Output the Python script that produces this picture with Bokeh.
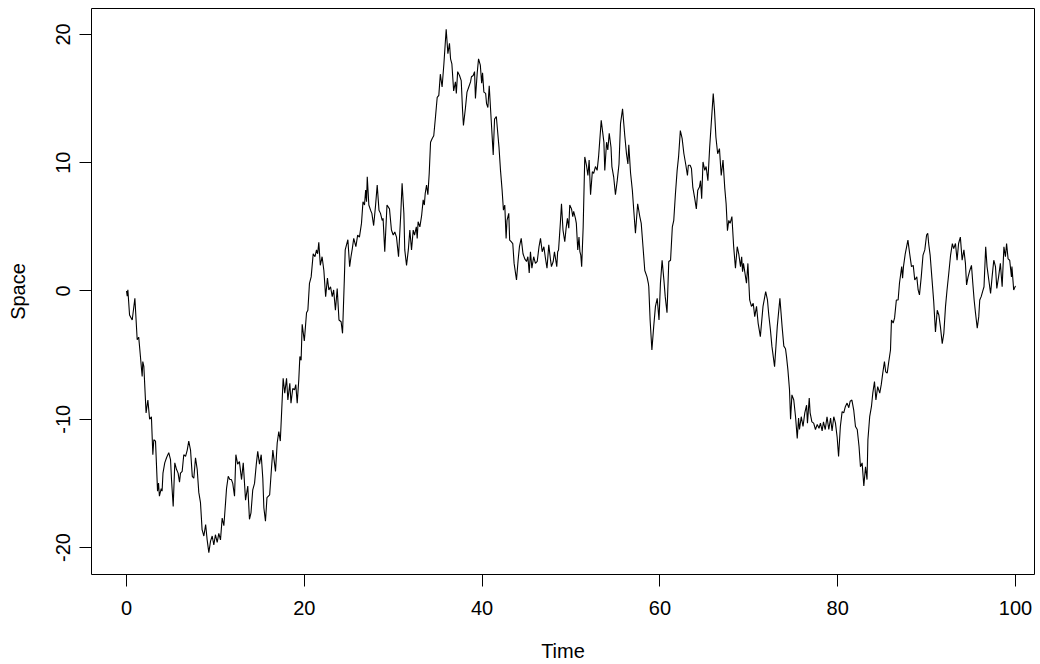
from bokeh.plotting import figure
from bokeh.models import Range1d, FixedTicker
from bokeh.embed import file_html
from bokeh.resources import INLINE

time = [0.0, 0.08, 0.15, 0.34, 0.64, 0.94, 1.2, 1.37, 1.5, 1.76, 1.83, 1.95, 2.2, 2.4, 2.6, 2.8, 2.96, 3.07, 3.26, 3.49,
        3.6, 3.7, 3.9, 4.0, 4.1, 4.3, 4.5, 4.75, 4.95, 5.06, 5.25, 5.43, 5.62, 5.8, 5.96, 6.07, 6.26, 6.44, 6.64, 6.83,
        7.0, 7.2, 7.4, 7.57, 7.76, 7.95, 8.13, 8.32, 8.5, 8.7, 8.9, 9.07, 9.26, 9.45, 9.64, 9.82, 10.0, 10.2, 10.38, 10.57,
        10.76, 10.95, 11.14, 11.25, 11.44, 11.62, 11.8, 11.95, 12.15, 12.3, 12.5, 12.7, 12.94, 13.13, 13.39, 13.64, 13.83, 14.0, 14.2, 14.4,
        14.6, 14.76, 14.96, 15.15, 15.33, 15.45, 15.63, 15.8, 16.1, 16.3, 16.46, 16.76, 16.95, 17.13, 17.3, 17.62, 17.8, 18.0, 18.15, 18.37,
        18.5, 18.7, 18.9, 19.04, 19.2, 19.38, 19.5, 19.64, 19.76, 20.0, 20.25, 20.4, 20.58, 20.77, 21.0, 21.2, 21.37, 21.5, 21.63, 21.8,
        22.0, 22.2, 22.4, 22.6, 22.76, 22.95, 23.14, 23.3, 23.5, 23.7, 23.9, 24.14, 24.3, 24.5, 24.6, 24.9, 25.1, 25.25, 25.4, 25.56,
        25.8, 26.0, 26.2, 26.43, 26.6, 26.77, 26.9, 27.0, 27.08, 27.26, 27.45, 27.6, 27.8, 28.0, 28.2, 28.4, 28.57, 28.76, 28.86, 29.05,
        29.3, 29.58, 29.8, 30.0, 30.18, 30.37, 30.6, 30.85, 31.0, 31.2, 31.3, 31.5, 31.7, 31.87, 32.06, 32.25, 32.4, 32.6, 32.7, 32.8,
        33.0, 33.2, 33.37, 33.5, 33.6, 33.75, 33.9, 34.05, 34.2, 34.4, 34.56, 34.76, 34.95, 35.13, 35.3, 35.5, 35.7, 35.96, 36.15, 36.33,
        36.45, 36.6, 36.8, 37.0, 37.1, 37.25, 37.46, 37.65, 37.8, 37.9, 38.13, 38.3, 38.5, 38.7, 38.8, 39.0, 39.15, 39.25, 39.45, 39.6,
        39.8, 39.95, 40.05, 40.2, 40.4, 40.5, 40.65, 40.8, 41.0, 41.25, 41.4, 41.6, 41.7, 41.9, 42.07, 42.25, 42.4, 42.55, 42.7, 42.8,
        43.0, 43.1, 43.27, 43.45, 43.6, 43.87, 44.05, 44.2, 44.4, 44.6, 44.8, 45.0, 45.15, 45.3, 45.44, 45.6, 45.8, 46.0, 46.2, 46.4,
        46.57, 46.76, 46.95, 47.1, 47.3, 47.5, 47.7, 47.8, 48.0, 48.14, 48.4, 48.5, 48.6, 48.8, 48.93, 49.1, 49.3, 49.45, 49.6, 49.75,
        49.86, 50.06, 50.2, 50.3, 50.5, 50.6, 50.76, 50.9, 51.0, 51.1, 51.2, 51.37, 51.55, 51.74, 51.9, 52.04, 52.2, 52.4, 52.55, 52.75,
        52.94, 53.1, 53.4, 53.7, 53.8, 54.0, 54.14, 54.3, 54.5, 54.6, 54.8, 55.0, 55.2, 55.4, 55.57, 55.8, 56.05, 56.24, 56.4, 56.5,
        56.7, 56.9, 57.06, 57.25, 57.5, 57.74, 57.9, 58.1, 58.3, 58.55, 58.7, 58.75, 58.9, 59.1, 59.3, 59.5, 59.7, 59.9, 60.06, 60.25,
        60.45, 60.6, 60.8, 61.0, 61.2, 61.4, 61.56, 61.75, 61.94, 62.1, 62.3, 62.5, 62.7, 62.9, 63.1, 63.2, 63.4, 63.55, 63.7, 63.9,
        64.1, 64.26, 64.45, 64.57, 64.7, 64.85, 65.05, 65.2, 65.4, 65.6, 65.8, 66.0, 66.14, 66.3, 66.5, 66.7, 66.9, 67.1, 67.3, 67.45,
        67.6, 67.75, 67.9, 68.1, 68.3, 68.5, 68.7, 68.87, 69.07, 69.2, 69.3, 69.4, 69.6, 69.74, 69.9, 70.1, 70.3, 70.5, 70.67, 70.87,
        71.05, 71.3, 71.6, 71.9, 72.1, 72.25, 72.43, 72.6, 72.9, 73.2, 73.5, 73.75, 73.94, 74.13, 74.24, 74.4, 74.58, 74.7, 74.85, 75.06,
        75.26, 75.45, 75.6, 75.7, 75.9, 76.1, 76.3, 76.5, 76.6, 76.8, 76.9, 77.1, 77.3, 77.5, 77.7, 77.9, 78.06, 78.25, 78.4, 78.6,
        78.8, 79.0, 79.2, 79.37, 79.56, 79.75, 79.94, 80.1, 80.3, 80.5, 80.68, 80.87, 81.06, 81.25, 81.4, 81.6, 81.8, 82.0, 82.2, 82.4,
        82.56, 82.75, 82.94, 83.13, 83.3, 83.4, 83.6, 83.8, 83.95, 84.14, 84.3, 84.5, 84.73, 84.9, 85.07, 85.26, 85.4, 85.57, 85.75, 85.94,
        86.05, 86.24, 86.4, 86.6, 86.8, 86.95, 87.2, 87.3, 87.4, 87.6, 87.9, 88.1, 88.3, 88.5, 88.67, 88.9, 89.05, 89.2, 89.4, 89.6,
        89.8, 90.0, 90.13, 90.25, 90.4, 90.6, 90.8, 91.0, 91.2, 91.38, 91.56, 91.76, 91.94, 92.13, 92.3, 92.5, 92.7, 92.9, 93.05, 93.25,
        93.43, 93.6, 93.8, 94.0, 94.2, 94.37, 94.5, 94.67, 94.86, 95.05, 95.2, 95.35, 95.5, 95.7, 95.87, 95.98, 96.14, 96.3, 96.46, 96.65,
        96.8, 97.0, 97.2, 97.37, 97.56, 97.75, 97.9, 98.1, 98.3, 98.5, 98.7, 98.87, 99.0, 99.17, 99.35, 99.55, 99.6, 99.8, 100.0]

space = [0.0, -0.4, 0.1, -1.87, -2.26, -0.57, -3.8, -3.6, -4.6, -6.67, -5.5, -5.9, -9.5, -8.5, -10.0, -9.8, -12.76, -11.6, -11.7, -15.6,
         -14.97, -16.0, -15.4, -15.6, -14.2, -13.4, -13.0, -12.6, -13.15, -14.7, -16.8, -13.4, -13.9, -14.2, -14.9, -14.2, -14.06, -12.76, -12.9, -12.4,
         -11.7, -12.4, -14.45, -14.6, -13.0, -13.9, -15.7, -16.5, -18.6, -19.1, -18.2, -19.4, -20.4, -19.5, -19.1, -19.8, -19.0, -19.6, -18.9, -19.4,
         -17.7, -18.3, -16.5, -15.4, -14.45, -14.7, -14.7, -15.0, -16.0, -12.76, -13.5, -13.3, -14.7, -13.4, -16.3, -15.2, -17.8, -17.3, -15.5, -15.0,
         -13.5, -12.5, -13.5, -12.76, -14.6, -16.9, -17.95, -16.1, -15.9, -13.9, -12.4, -14.06, -11.85, -10.95, -11.7, -6.8, -7.96, -6.8, -8.5, -7.2,
         -8.74, -7.6, -7.7, -7.3, -8.74, -6.9, -5.1, -5.4, -2.6, -3.9, -1.7, -1.5, 0.6, 1.1, 2.9, 2.67, 3.2, 2.9, 3.8, 2.0,
         2.67, 1.6, -0.44, 1.0, 0.08, 0.33, -0.44, 0.08, -1.5, 0.2, -2.26, -2.4, -3.3, 0.86, 3.2, 4.0, 1.9, 2.67, 3.3, 4.1,
         3.45, 4.36, 4.2, 5.27, 6.95, 6.7, 7.86, 6.95, 8.9, 6.7, 6.3, 6.05, 5.1, 6.56, 8.25, 6.3, 6.05, 5.5, 5.66, 3.06,
         6.7, 6.4, 4.75, 4.36, 4.6, 4.2, 2.67, 6.0, 8.4, 6.05, 3.2, 2.0, 3.2, 4.75, 3.2, 4.75, 4.36, 5.0, 4.1, 5.4,
         5.0, 5.9, 7.1, 6.7, 7.6, 8.25, 7.5, 9.16, 11.6, 11.9, 12.1, 13.6, 15.1, 15.25, 16.9, 15.9, 17.7, 20.4, 18.5, 19.3,
         18.1, 17.7, 15.6, 16.3, 15.4, 17.1, 16.8, 16.4, 14.1, 12.9, 14.3, 15.5, 15.9, 16.3, 16.7, 16.8, 17.1, 15.0, 17.0, 18.1,
         17.6, 16.2, 17.0, 15.5, 15.4, 14.6, 14.3, 16.0, 13.6, 10.6, 13.4, 13.6, 12.8, 11.2, 9.4, 7.86, 6.3, 6.7, 4.1, 5.5,
         6.05, 3.97, 3.84, 3.7, 2.15, 0.86, 2.4, 3.45, 4.1, 2.9, 2.5, 2.3, 2.67, 1.4, 3.06, 1.77, 2.67, 2.15, 2.3, 3.45,
         4.1, 3.06, 3.45, 2.67, 1.77, 3.6, 2.4, 1.9, 2.3, 3.06, 1.9, 3.06, 3.2, 5.27, 6.8, 4.75, 3.84, 4.9, 5.66, 4.9,
         6.7, 6.4, 5.8, 6.2, 5.66, 5.27, 3.2, 4.2, 3.06, 2.8, 1.9, 5.0, 10.45, 9.8, 9.0, 10.2, 7.5, 9.3, 9.16, 9.7,
         9.4, 10.45, 13.3, 11.6, 9.4, 11.6, 11.0, 12.3, 11.2, 9.7, 8.9, 7.5, 8.6, 9.9, 13.05, 14.2, 12.1, 10.7, 9.9, 11.4,
         9.2, 7.86, 6.3, 4.5, 6.8, 5.8, 5.27, 3.45, 1.6, 1.1, 0.6, 0.33, -2.26, -4.6, -2.8, -1.2, -0.57, -2.26, 0.6, 2.4,
         0.86, -0.44, -1.7, 2.3, 2.4, 5.0, 5.5, 7.6, 9.4, 10.45, 12.5, 11.9, 10.7, 9.9, 9.0, 9.8, 9.8, 9.55, 8.1, 7.3,
         6.4, 7.86, 8.1, 8.6, 7.2, 10.06, 9.4, 9.7, 8.6, 11.2, 13.3, 15.4, 14.1, 12.0, 10.7, 11.1, 9.0, 10.2, 8.0, 6.8,
         4.7, 5.5, 5.27, 5.8, 3.45, 1.77, 3.45, 2.9, 1.9, 2.67, 1.5, 2.15, 1.25, 0.6, 2.15, -0.7, -1.2, -0.96, -2.0, -1.2,
         -2.5, -3.56, -1.2, -0.05, -0.7, -1.87, -3.0, -4.3, -5.9, -2.8, -0.57, -2.8, -4.3, -4.5, -5.1, -6.15, -7.7, -10.0, -8.1, -8.5,
         -9.8, -11.5, -9.9, -10.8, -9.8, -10.56, -9.5, -8.9, -10.3, -8.35, -9.5, -10.2, -10.3, -10.8, -10.4, -10.7, -10.3, -10.9, -10.2, -10.8,
         -9.8, -10.8, -9.9, -10.9, -9.8, -10.3, -11.4, -12.9, -10.56, -9.4, -9.5, -9.0, -8.74, -9.1, -8.6, -8.5, -9.26, -10.56, -10.8, -12.1,
         -13.7, -13.4, -15.2, -13.7, -14.7, -11.6, -9.8, -9.0, -7.96, -7.06, -8.5, -7.45, -7.96, -7.3, -6.4, -5.5, -6.3, -6.4, -5.5, -4.6,
         -2.26, -2.5, -2.1, -0.7, -0.7, 0.6, 1.9, 1.0, 1.9, 2.9, 3.97, 2.9, 1.9, 2.0, 0.86, 1.1, 0.08, -0.3, 1.1, 2.8,
         3.2, 4.36, 4.5, 3.6, 2.8, 1.0, -0.8, -3.2, -1.5, -1.87, -2.8, -4.1, -3.3, -1.2, 0.08, 1.4, 2.8, 3.7, 3.3, 3.7,
         2.4, 3.7, 4.2, 2.4, 3.2, 2.15, 0.47, 1.1, 1.6, 2.0, 0.6, -0.7, -1.7, -2.9, -2.0, -0.7, -0.44, -0.05, 0.33, 3.45,
         1.9, 0.86, -0.2, 1.1, 2.4, 1.9, 0.2, 1.1, 2.15, 0.33, 3.45, 2.67, 3.7, 2.5, 2.4, 1.1, 1.9, 0.08, 0.4]

x_ticks = [0, 20, 40, 60, 80, 100]
x_tick_labels = ["0", "20", "40", "60", "80", "100"]
y_ticks = [-20, -10, 0, 10, 20]
y_tick_labels = ["-20", "-10", "0", "10", "20"]

FONT = "Liberation Sans"

p = figure(width=1040, height=664, output_backend="svg", toolbar_location=None,
           x_range=Range1d(-3.94, 102.14), y_range=Range1d(-22.1, 22.02),
           min_border_left=91, min_border_right=6, min_border_top=8, min_border_bottom=89,
           x_axis_label="Time", y_axis_label="Space")

p.line(time, space, line_color="black", line_width=1.1)

p.grid.visible = False
p.outline_line_color = "black"
p.outline_line_width = 1
p.background_fill_color = "white"
p.border_fill_color = "white"

p.xaxis.ticker = FixedTicker(ticks=x_ticks)
p.yaxis.ticker = FixedTicker(ticks=y_ticks)
p.xaxis.major_label_overrides = dict(zip(x_ticks, x_tick_labels))
p.yaxis.major_label_overrides = dict(zip(y_ticks, y_tick_labels))
p.yaxis.major_label_orientation = "vertical"

for ax in (p.xaxis, p.yaxis):
    ax.axis_line_color = None
    ax.major_tick_line_color = "black"
    ax.major_tick_line_width = 1
    ax.major_tick_out = 12
    ax.major_tick_in = 0
    ax.minor_tick_line_color = None
    ax.major_label_text_font = FONT
    ax.major_label_text_font_size = "20px"
    ax.major_label_text_color = "black"
    ax.axis_label_text_font = FONT
    ax.axis_label_text_font_size = "20px"
    ax.axis_label_text_font_style = "normal"
    ax.axis_label_text_color = "black"

p.xaxis.major_label_standoff = 14
p.xaxis.axis_label_standoff = 22
p.yaxis.major_label_standoff = 9
p.yaxis.axis_label_standoff = 25

open("out.html", "w").write(file_html(p, INLINE))
